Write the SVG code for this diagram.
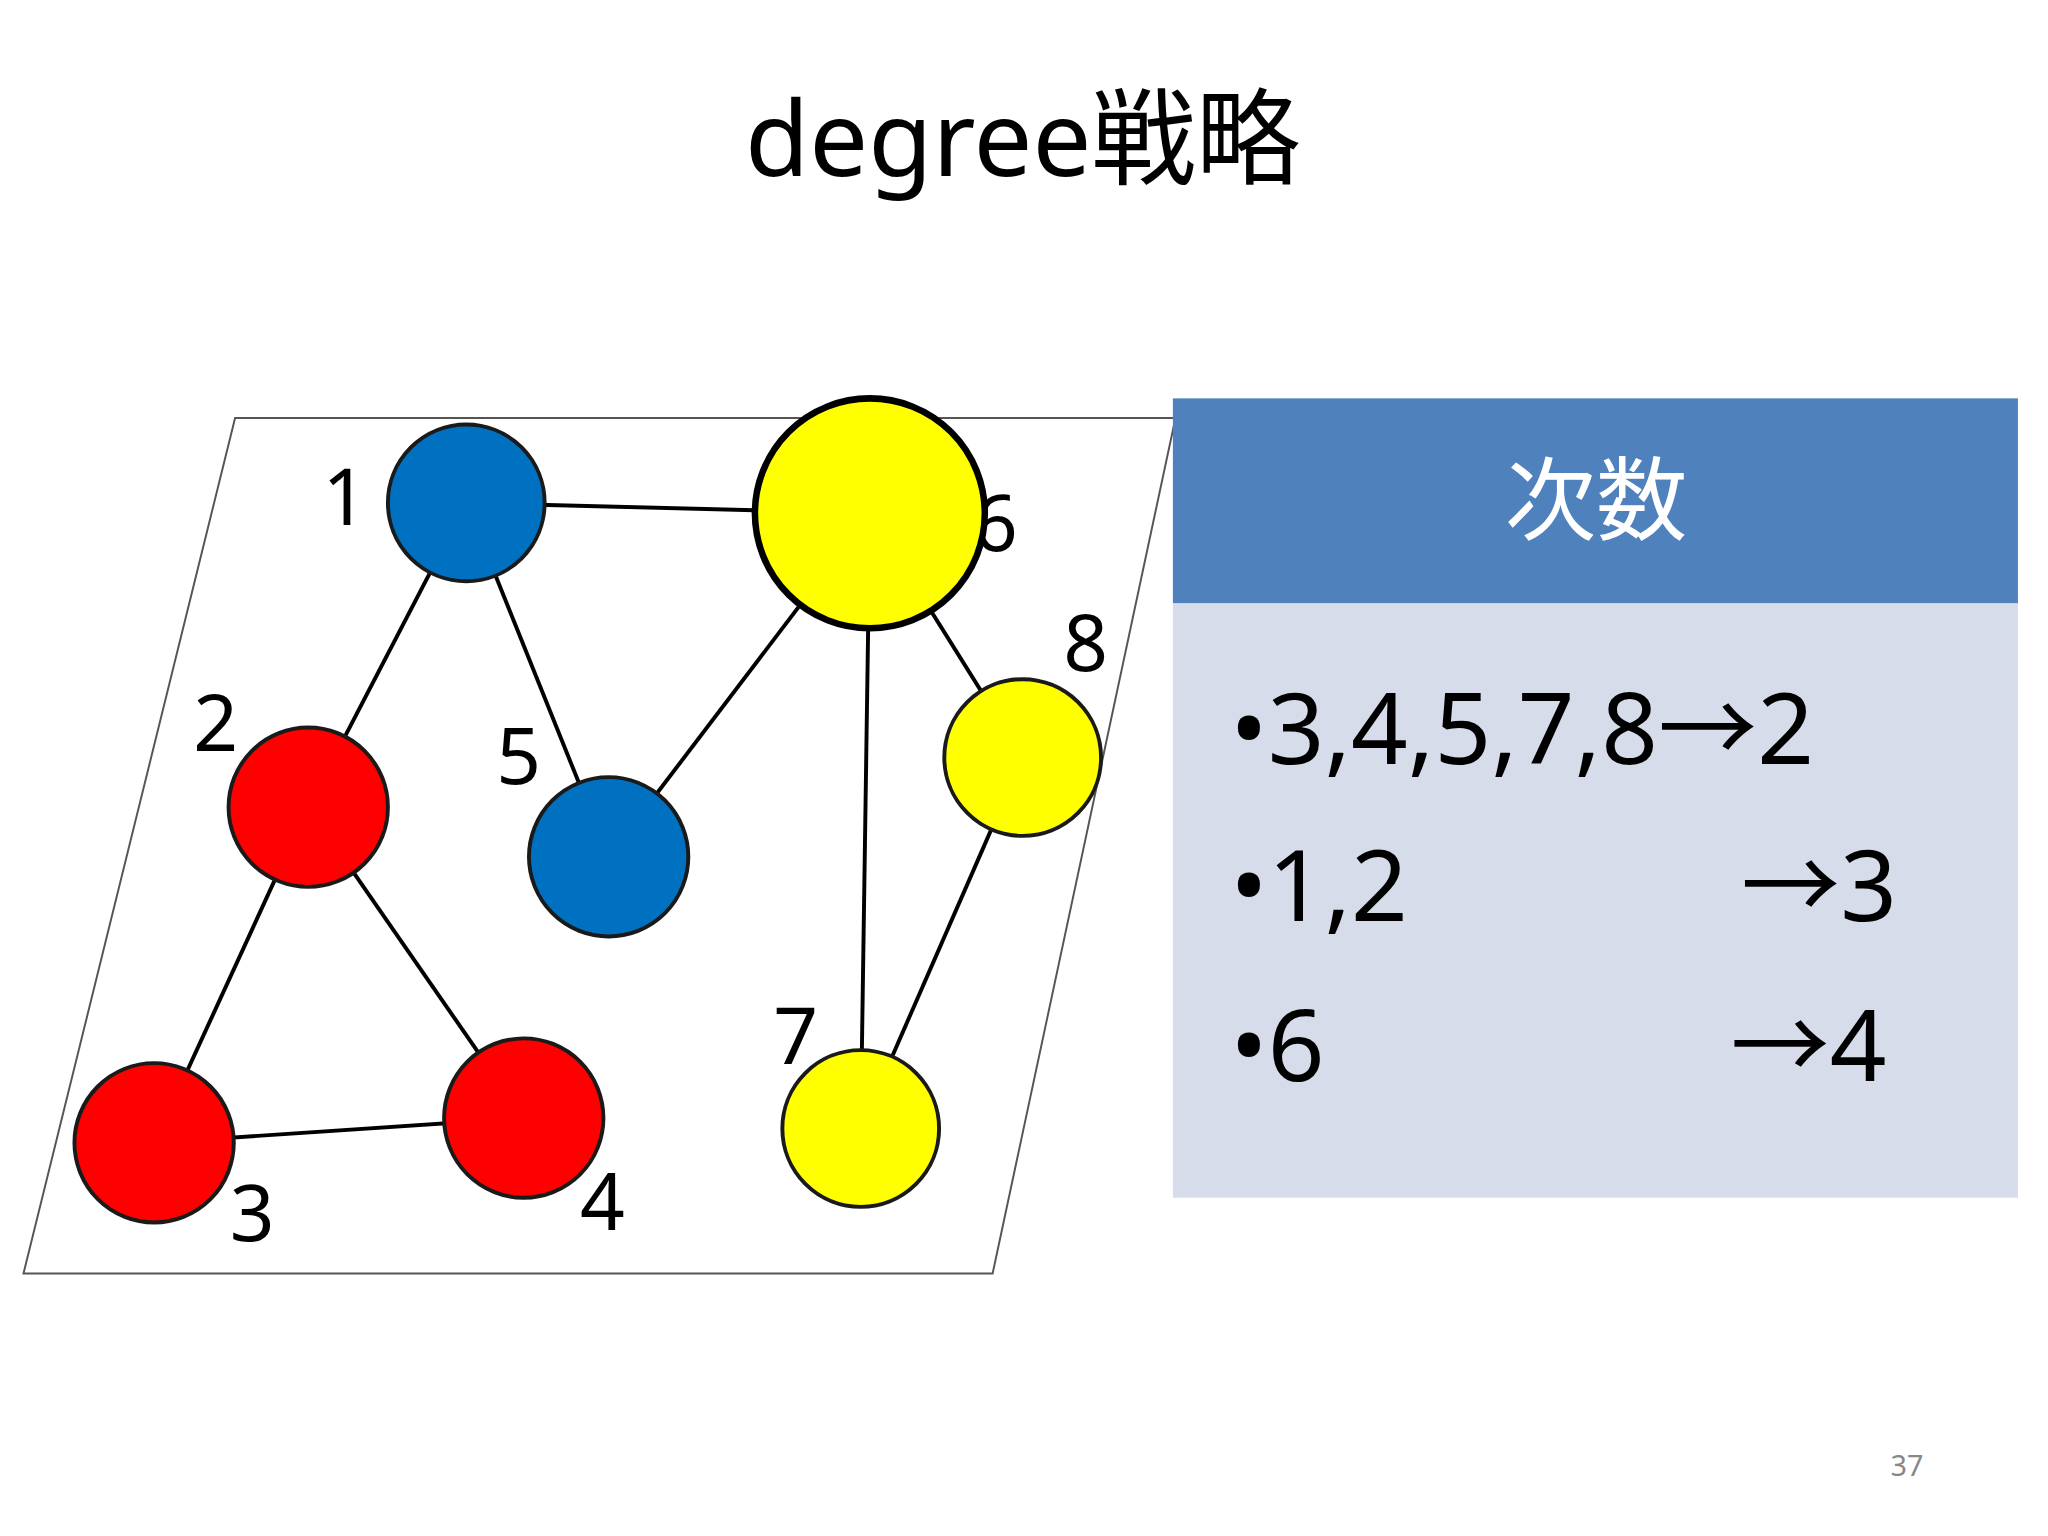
<svg xmlns="http://www.w3.org/2000/svg" width="2048" height="1536" viewBox="0 0 2048 1536">
<style>
text{font-family:"Noto Sans","Noto Sans CJK JP",sans-serif}
.e{stroke:#000;stroke-width:3;fill:none}
.n{stroke:#1a1a1a;stroke-width:3}
.lb{font-size:60px;fill:#000}
.bl{font-size:76px;fill:#000}
</style>
<rect width="2048" height="1536" fill="#fff"/>
<g transform="scale(1.3061)">
<text x="783" y="135" font-size="80" text-anchor="middle">degree戦略</text>
<polygon points="180,320 900,320 760,975 18,975" fill="#fff" stroke="#555" stroke-width="1.5"/>
<g id="connectors">
<line class="e" x1="357" y1="385" x2="666" y2="393"/>
<line class="e" x1="357" y1="385" x2="236" y2="618"/>
<line class="e" x1="357" y1="385" x2="466" y2="656"/>
<line class="e" x1="666" y1="393" x2="466" y2="656"/>
<line class="e" x1="666" y1="393" x2="783" y2="580"/>
<line class="e" x1="666" y1="393" x2="659" y2="864"/>
<line class="e" x1="236" y1="618" x2="118" y2="875"/>
<line class="e" x1="236" y1="618" x2="401" y2="856"/>
<line class="e" x1="118" y1="875" x2="401" y2="856"/>
<line class="e" x1="783" y1="580" x2="659" y2="864"/>
</g>
<text class="lb" x="745" y="422">6</text>
<g id="n1"><circle class="n" cx="357" cy="385" r="60" fill="#0070c0"/><text class="lb" x="247" y="402">1</text></g>
<g id="n2"><circle class="n" cx="236" cy="618" r="61" fill="#f00"/><text class="lb" x="148" y="575">2</text></g>
<g id="n3"><circle class="n" cx="118" cy="875" r="61" fill="#f00"/><text class="lb" x="176" y="950">3</text></g>
<g id="n4"><circle class="n" cx="401" cy="856" r="61" fill="#f00"/><text class="lb" x="444" y="942">4</text></g>
<g id="n5"><circle class="n" cx="466" cy="656" r="61" fill="#0070c0"/><text class="lb" x="380" y="600">5</text></g>
<g id="n6"><circle cx="666" cy="393" r="88" fill="#ff0" stroke="#000" stroke-width="5"/></g>
<g id="n7"><circle class="n" cx="659" cy="864" r="60" fill="#ff0"/><text class="lb" x="592" y="815">7</text></g>
<g id="n8"><circle class="n" cx="783" cy="580" r="60" fill="#ff0"/><text class="lb" x="814" y="514">8</text></g>
<g id="panel">
<rect x="898" y="305" width="647" height="157" fill="#4f81bd"/>
<rect x="898" y="462" width="647" height="455" fill="#d6dce9"/>
<text x="1222" y="408" font-size="70" fill="#fff" text-anchor="middle">次数</text>
<text class="bl" x="942" y="585">•3,4,5,7,8→2</text>
<text class="bl" x="942" y="705">•1,2</text>
<text class="bl" x="1333" y="705">→3</text>
<text class="bl" x="942" y="828">•6</text>
<text class="bl" x="1325" y="828">→4</text>
</g>
<text x="1460" y="1130" font-size="22" fill="#888" text-anchor="middle">37</text>
</g>
</svg>
